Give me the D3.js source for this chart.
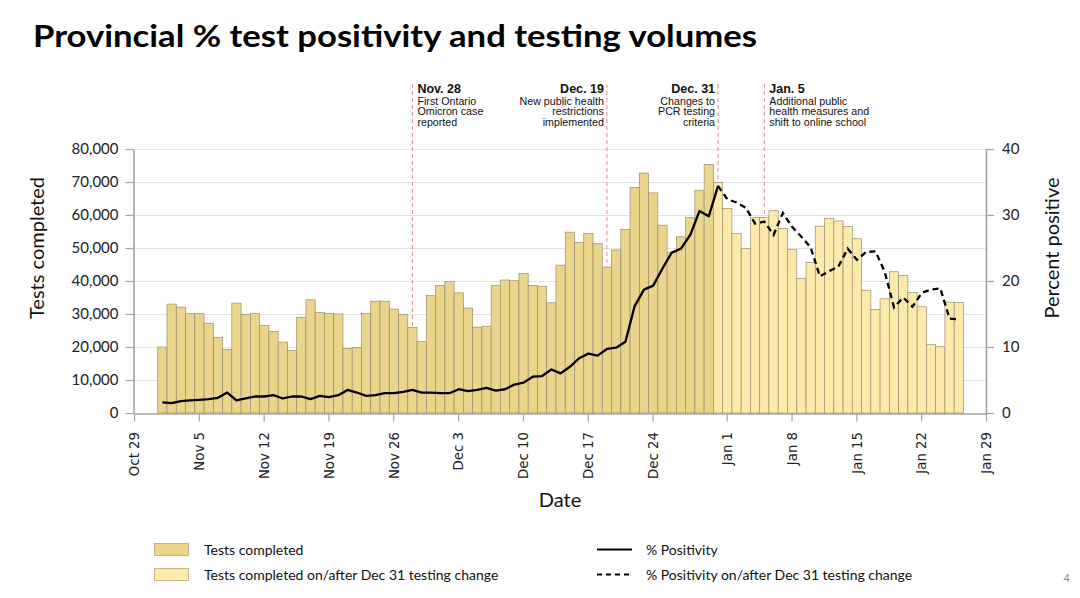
<!DOCTYPE html>
<html>
<head>
<meta charset="utf-8">
<script src="https://cdn.jsdelivr.net/npm/d3@7"></script>
<style>
  html, body { margin: 0; padding: 0; background: #fff; }
  svg { display: block; }
</style>
</head>
<body>
<svg id="chart" width="1080" height="598"></svg>
<script>
// ---------------- DATA ----------------
const firstDay = "2021-11-01"; // first bar date; one bar per day
const testsCompleted = [
  20000, 33000, 32100, 30100, 30100, 27200, 22900, 19300, 33300, 29900,
  30200, 26500, 24700, 21500, 19000, 29000, 34300, 30500, 30200, 30000,
  19600, 19900, 30200, 33900, 33900, 31500, 29800, 26000, 21600, 35600,
  38600, 39900, 36400, 31800, 26000, 26300, 38700, 40300, 40100, 42300,
  38600, 38400, 33400, 44800, 54800, 51700, 54400, 51300, 44200, 49400,
  55600, 68400, 72700, 66700, 56900, 48700, 53400, 59300, 67500, 75300,
  69900, 62000, 54400, 49900, 59200, 59200, 61300, 55900, 49600, 40800,
  45600, 56600, 59000, 58200, 56500, 52800, 37200, 31400, 34600, 42800,
  41700, 36500, 32200, 20700, 20100, 33600, 33500
];
const changeDay = "2021-12-31"; // testing change date
// % positivity, Nov 1 – Dec 31
const positivityBefore = [
  1.6, 1.5, 1.8, 1.9, 2.0, 2.1, 2.3, 3.1, 1.9, 2.2,
  2.5, 2.5, 2.7, 2.2, 2.5, 2.5, 2.1, 2.6, 2.4, 2.7,
  3.5, 3.1, 2.6, 2.7, 3.0, 3.0, 3.2, 3.5, 3.1, 3.1,
  3.0, 3.0, 3.6, 3.3, 3.5, 3.8, 3.4, 3.6, 4.3, 4.6,
  5.5, 5.6, 6.6, 6.0, 7.0, 8.3, 9.0, 8.7, 9.7, 9.9,
  10.8, 16.2, 18.7, 19.3, 21.9, 24.3, 24.9, 27.0, 30.6, 29.8,
  34.4
];
// % positivity, Dec 31 – Jan 26
const positivityAfter = [
  34.4, 32.4, 31.9, 31.1, 28.7, 29.0, 27.0, 30.3, 28.2, 26.7,
  25.1, 20.7, 21.5, 22.2, 24.9, 23.2, 24.4, 24.5, 21.4, 16.0,
  17.5, 16.1, 18.2, 18.7, 18.9, 14.3, 14.2
];
const xTickDates = ["2021-10-29","2021-11-05","2021-11-12","2021-11-19","2021-11-26",
  "2021-12-03","2021-12-10","2021-12-17","2021-12-24","2022-01-01","2022-01-08",
  "2022-01-15","2022-01-22","2022-01-29"];
const leftTicks = [0,10000,20000,30000,40000,50000,60000,70000,80000];
const rightTicks = [0,10,20,30,40];
const annotations = [
  {date: "2021-11-28", side: "right", title: "Nov. 28", lines: ["First Ontario", "Omicron case", "reported"]},
  {date: "2021-12-19", side: "left",  title: "Dec. 19", lines: ["New public health", "restrictions", "implemented"]},
  {date: "2021-12-31", side: "left",  title: "Dec. 31", lines: ["Changes to", "PCR testing", "criteria"]},
  {date: "2022-01-05", side: "right", title: "Jan. 5",  lines: ["Additional public", "health measures and", "shift to online school"]}
];
const legendItems = ["Tests completed", "Tests completed on/after Dec 31 testing change",
                     "% Positivity", "% Positivity on/after Dec 31 testing change"];

// ---------------- SETUP ----------------
const parse = d3.utcParse("%Y-%m-%d");
const svg = d3.select("#chart");
const C_DARK = "#ebd58b", C_LIGHT = "#fde9a9", C_EDGE = "#97916f";
const AXIS_C = "#a3a3a3";
const SANS = "Lato, 'Open Sans', sans-serif";

const x = d3.scaleUtc().domain([parse("2021-10-29"), parse("2022-01-29")]).range([134, 986]);
const yL = d3.scaleLinear().domain([0, 80000]).range([413, 149]);
const yR = d3.scaleLinear().domain([0, 40]).range([413, 149]);

const start = parse(firstDay);
const change = parse(changeDay);
const bars = testsCompleted.map((v, i) => ({date: d3.utcDay.offset(start, i), v}));
const posB = positivityBefore.map((v, i) => ({date: d3.utcDay.offset(start, i), v}));
const posA = positivityAfter.map((v, i) => ({date: d3.utcDay.offset(change, i), v}));
const dayW = x(d3.utcDay.offset(start, 1)) - x(start);
const cx = d => x(d) + 0.6;

// Title
svg.append("text").attr("x", 33).attr("y", 47)
  .attr("font-family", SANS).attr("font-weight", 700).attr("font-size", 31)
  .attr("textLength", 724).attr("lengthAdjust", "spacingAndGlyphs")
  .attr("fill", "#000").text("Provincial % test positivity and testing volumes");

// Gridlines
svg.append("g").selectAll("line").data(leftTicks.filter(d => d > 0)).join("line")
  .attr("x1", 134).attr("x2", 986)
  .attr("y1", d => yL(d) + 0.5).attr("y2", d => yL(d) + 0.5)
  .attr("stroke", "#e4e4e4").attr("stroke-width", 1);

// Annotation lines (behind bars)
const ann = svg.append("g");
annotations.forEach(a => {
  const ax = cx(parse(a.date));
  ann.append("line").attr("x1", ax).attr("x2", ax).attr("y1", 84).attr("y2", 413)
    .attr("stroke", "#ef8a8a").attr("stroke-width", 1).attr("stroke-dasharray", "4,3");
  const tx = a.side === "right" ? ax + 5 : ax - 3;
  const anchor = a.side === "right" ? "start" : "end";
  const t = ann.append("text").attr("x", tx).attr("y", 93).attr("text-anchor", anchor)
    .attr("font-family", "'Liberation Sans', Arial, sans-serif").attr("fill", "#111");
  t.append("tspan").attr("x", tx).attr("font-weight", 700).attr("font-size", 12.5).text(a.title);
  a.lines.forEach((l, i) => {
    t.append("tspan").attr("x", tx).attr("y", 104.5 + i * 10.8)
      .attr("font-size", 10.7).text(l);
  });
});

// Bars
svg.append("g").selectAll("rect").data(bars).join("rect")
  .attr("x", d => cx(d.date) - dayW / 2)
  .attr("width", dayW)
  .attr("y", d => yL(d.v))
  .attr("height", d => yL(0) - yL(d.v))
  .attr("fill", d => d.date >= change ? C_LIGHT : C_DARK)
  .attr("stroke", C_EDGE).attr("stroke-width", 0.7);

// Positivity lines
const line = d3.line().x(d => cx(d.date)).y(d => yR(d.v));
svg.append("path").datum(posB).attr("d", line)
  .attr("fill", "none").attr("stroke", "#000").attr("stroke-width", 2.3)
  .attr("stroke-linejoin", "round");
svg.append("path").datum(posA).attr("d", line)
  .attr("fill", "none").attr("stroke", "#000").attr("stroke-width", 2.3)
  .attr("stroke-dasharray", "6,4");

// Axes
function styleAxis(g) {
  g.select(".domain").attr("stroke", AXIS_C).attr("stroke-width", 1.6);
  g.selectAll(".tick line").attr("stroke", AXIS_C).attr("stroke-width", 1.2);
  g.selectAll(".tick text").attr("fill", "#222");
}
const gL = svg.append("g").attr("transform", "translate(133.5,0)")
  .call(d3.axisLeft(yL).tickValues(leftTicks).tickFormat(d3.format(",")).tickSize(8).tickSizeOuter(0).tickPadding(7))
  .call(styleAxis);
gL.selectAll(".tick text").attr("font-family", SANS).attr("font-size", 15);

const gR = svg.append("g").attr("transform", "translate(986,0)")
  .call(d3.axisRight(yR).tickValues(rightTicks).tickSize(8).tickSizeOuter(0).tickPadding(8))
  .call(styleAxis);
gR.selectAll(".tick text").attr("font-family", SANS).attr("font-size", 15);

const gB = svg.append("g").attr("transform", "translate(0,413.5)")
  .call(d3.axisBottom(x).tickValues(xTickDates.map(parse)).tickFormat(d3.utcFormat("%b %-d")).tickSize(8).tickSizeOuter(0))
  .call(styleAxis);
gB.selectAll(".tick text")
  .attr("font-family", "'DejaVu Sans', Verdana, sans-serif").attr("font-size", 13.3)
  .attr("transform", "rotate(-90)").attr("x", -18.5).attr("y", 0).attr("dy", "0.36em")
  .style("text-anchor", "end");

// Axis titles
svg.append("text").attr("transform", "translate(44,248) rotate(-90)")
  .attr("text-anchor", "middle").attr("font-family", SANS).attr("font-size", 20)
  .attr("fill", "#111").text("Tests completed");
svg.append("text").attr("transform", "translate(1059,248) rotate(-90)")
  .attr("text-anchor", "middle").attr("font-family", SANS).attr("font-size", 20)
  .attr("fill", "#111").text("Percent positive");
svg.append("text").attr("x", 560).attr("y", 507)
  .attr("text-anchor", "middle").attr("font-family", SANS).attr("font-size", 20)
  .attr("fill", "#111").text("Date");

// Legend
const lg = svg.append("g").attr("font-family", SANS).attr("font-size", 14).attr("fill", "#111");
[C_DARK, C_LIGHT].forEach((c, i) => {
  lg.append("rect").attr("x", 154.5).attr("y", 543.5 + i * 25).attr("width", 34).attr("height", 12)
    .attr("fill", c).attr("stroke", "#b3aa80").attr("stroke-width", 0.8);
  lg.append("text").attr("x", 204).attr("y", 550 + i * 25).attr("dy", "0.35em").text(legendItems[i]);
});
[null, "5,4"].forEach((dash, i) => {
  lg.append("line").attr("x1", 597).attr("x2", 632).attr("y1", 549.5 + i * 25).attr("y2", 549.5 + i * 25)
    .attr("stroke", "#000").attr("stroke-width", 2.2).attr("stroke-dasharray", dash);
  lg.append("text").attr("x", 646).attr("y", 550 + i * 25).attr("dy", "0.35em").text(legendItems[2 + i]);
});

// Page number
svg.append("text").attr("x", 1070).attr("y", 582).attr("text-anchor", "end")
  .attr("font-family", SANS).attr("font-size", 11).attr("fill", "#8a8a8a").text("4");
</script>
</body>
</html>
